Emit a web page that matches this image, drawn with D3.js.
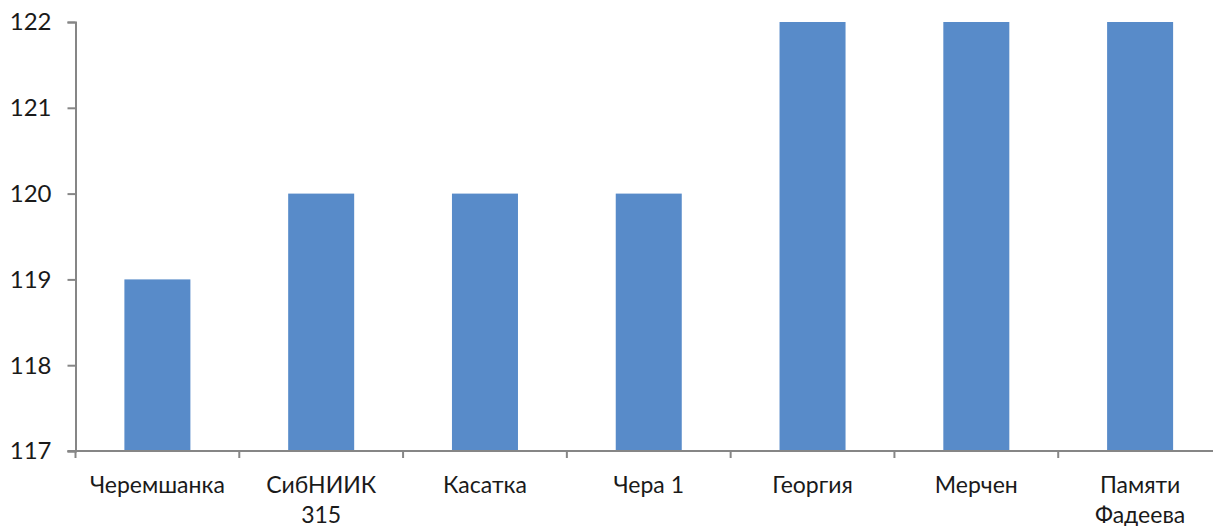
<!DOCTYPE html>
<html><head><meta charset="utf-8">
<script src="https://cdn.jsdelivr.net/npm/d3@7"></script>
<style>body{margin:0;background:#fff}svg{display:block}</style>
</head><body>
<svg id="c" width="1213" height="526"></svg>
<script>
const categories = [["Черемшанка"],["СибНИИК","315"],["Касатка"],["Чера 1"],["Георгия"],["Мерчен"],["Памяти","Фадеева"]];
const values = [119,120,120,120,122,122,122];
const yTicks = [117,118,119,120,121,122];

const svg = d3.select("#c");
const x0 = 75.5, x1 = 1222, yTop = 22, yBot = 451;
const x = d3.scaleBand().domain(d3.range(categories.length)).range([x0,x1]).paddingInner(0.597).paddingOuter(0.2985);
const y = d3.scaleLinear().domain([117,122]).range([yBot,yTop]);
const font = "Lato, 'Open Sans', sans-serif";
const axisCol = "#868686";

svg.selectAll("rect.bar").data(values).enter().append("rect")
  .attr("class","bar")
  .attr("x",(d,i)=>x(i)).attr("width",x.bandwidth())
  .attr("y",d=>y(d)).attr("height",d=>yBot-y(d))
  .attr("fill","#588BC9");

// y axis
const yAxis = svg.append("g").attr("transform",`translate(${x0},0)`)
  .call(d3.axisLeft(y).tickValues(yTicks).tickFormat(d3.format("d")).tickSize(8).tickPadding(16));
yAxis.select(".domain").attr("stroke",axisCol).attr("stroke-width",2);
yAxis.selectAll(".tick line").attr("stroke",axisCol).attr("stroke-width",2);
yAxis.selectAll("text").attr("font-family",font).attr("font-size",24).attr("fill","#1a1a1a").attr("dy","0.33em");

// x axis
const xb = d3.scaleLinear().domain([0,categories.length]).range([x0,x1]);
const xAxis = svg.append("g").attr("transform",`translate(0,${yBot})`);
xAxis.append("line").attr("x1",x0-8).attr("x2",x1).attr("y1",0).attr("y2",0).attr("stroke",axisCol).attr("stroke-width",2);
xAxis.selectAll("line.t").data(d3.range(0,categories.length+1)).enter().append("line")
  .attr("x1",d=>xb(d)).attr("x2",d=>xb(d)).attr("y1",0).attr("y2",7).attr("stroke",axisCol).attr("stroke-width",2);
const lbl = xAxis.selectAll("text.l").data(categories).enter().append("text")
  .attr("text-anchor","middle").attr("font-family",font).attr("font-size",23).attr("fill","#1a1a1a")
  .attr("transform",(d,i)=>`translate(${x(i)+x.bandwidth()/2},0)`);
lbl.selectAll("tspan").data(d=>d).enter().append("tspan")
  .attr("x",0).attr("y",(d,j)=>42+j*30).text(d=>d);
</script>
</body></html>
